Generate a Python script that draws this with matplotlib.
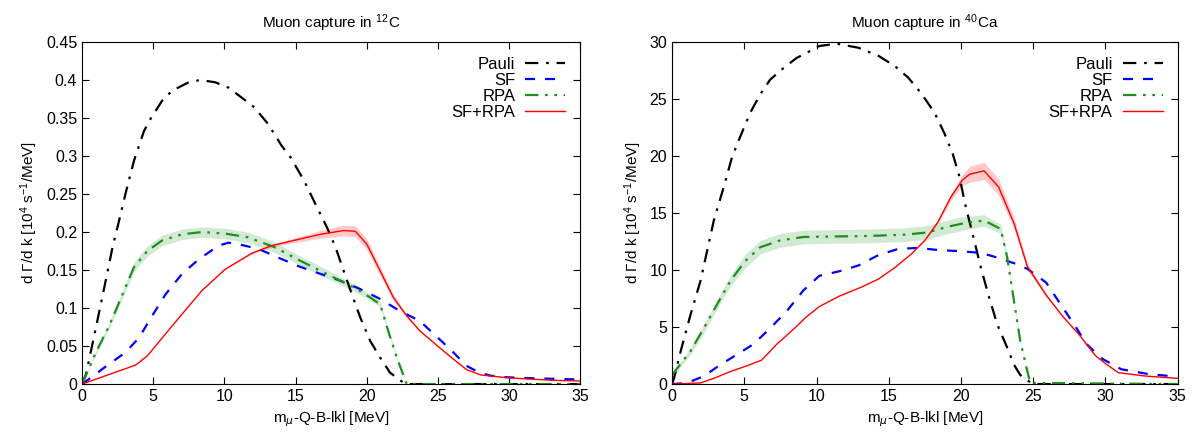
import matplotlib
matplotlib.use("Agg")
import matplotlib.pyplot as plt
import numpy as np

plt.rcParams['font.family'] = ['Liberation Sans', 'DejaVu Sans']
plt.rcParams['mathtext.default'] = 'regular'

# ---- 12C ----
c_pauli_x = [0, 0.28, 0.98, 1.56, 2.14, 2.6, 3.07, 3.65, 4.35, 4.81, 5.63, 6.33, 7.49, 8.3, 9.35, 10.28,
             11.2, 12.1, 13.07, 14.0, 14.65, 15.58, 16.28, 17.2, 17.8, 18.37, 18.95, 19.53, 20.23, 20.93,
             21.63, 22.56, 22.9, 35]
c_pauli_y = [0, 0.013, 0.075, 0.127, 0.18, 0.215, 0.252, 0.294, 0.333, 0.349, 0.373, 0.386, 0.397, 0.4,
             0.397, 0.39, 0.377, 0.364, 0.342, 0.314, 0.298, 0.268, 0.241, 0.206, 0.18, 0.149, 0.118, 0.088,
             0.057, 0.035, 0.015, 0.002, 0, 0]

c_sf_x = [0, 0.16, 1.44, 3.07, 4.0, 4.93, 5.86, 7.02, 8.19, 9.58, 10.28, 11.2, 12.37, 13.95, 15.35, 16.74,
          18.14, 19.53, 20.93, 22.33, 23.72, 25.1, 25.9, 27.0, 27.9, 28.7, 29.8, 31.1, 33.0, 35]
c_sf_y = [0, 0.002, 0.02, 0.042, 0.061, 0.09, 0.118, 0.145, 0.164, 0.182, 0.186, 0.183, 0.178, 0.165, 0.154,
          0.145, 0.136, 0.125, 0.112, 0.096, 0.083, 0.059, 0.045, 0.024, 0.015, 0.011, 0.009, 0.008, 0.007, 0.006]

c_rpa_x = [0, 0.98, 1.91, 2.84, 3.65, 4.58, 5.63, 7.02, 8.42, 10.05, 11.67, 13.53, 15.35, 16.74, 18.14,
           19.3, 20.23, 20.93, 21.5, 22.1, 22.8, 35]
c_rpa_y = [0, 0.042, 0.077, 0.118, 0.154, 0.175, 0.189, 0.197, 0.2, 0.198, 0.193, 0.18, 0.162, 0.149, 0.136,
           0.125, 0.114, 0.105, 0.07, 0.035, 0, 0]
c_rpa_err = [0, 0.003, 0.004, 0.005, 0.006, 0.007, 0.007, 0.007, 0.007, 0.007, 0.007, 0.007, 0.006, 0.006,
             0.005, 0.005, 0.004, 0.004, 0.003, 0.002, 0, 0]

c_tot_x = [0, 3.77, 4.58, 5.86, 7.02, 8.42, 10.05, 11.91, 13.3, 14.88, 16.74, 18.37, 19.19, 20.0, 20.93,
           21.86, 22.79, 23.72, 25.1, 26.0, 27.0, 28.0, 29.5, 31.0, 33.0, 35]
c_tot_y = [0, 0.025, 0.037, 0.066, 0.092, 0.123, 0.151, 0.172, 0.182, 0.189, 0.197, 0.202, 0.201, 0.184,
           0.149, 0.114, 0.09, 0.07, 0.048, 0.034, 0.019, 0.012, 0.009, 0.007, 0.005, 0.004]
c_tot_err = [0, 0, 0, 0, 0, 0, 0, 0.001, 0.002, 0.003, 0.005, 0.007, 0.007, 0.007, 0.006, 0.004, 0.002,
             0.001, 0, 0, 0, 0, 0, 0, 0, 0]

# ---- 40Ca ----
ca_pauli_x = [0, 0.14, 0.6, 1.28, 1.97, 2.89, 3.58, 4.15, 4.72, 5.41, 6.1, 6.79, 7.7, 8.62, 9.54, 10.2,
              11.4, 12.89, 14.27, 15.41, 16.33, 17.25, 18.17, 18.85, 19.43, 19.89, 20.34, 20.8, 21.38,
              21.95, 22.52, 23.2, 23.67, 24.1, 24.7, 25.05, 35]
ca_pauli_y = [0, 0.53, 2.9, 6.1, 9.06, 14.35, 17.3, 19.9, 21.7, 23.8, 25.4, 26.7, 27.7, 28.6, 29.2, 29.65,
              29.85, 29.5, 28.8, 27.9, 26.9, 25.5, 23.8, 22.0, 20.2, 18.2, 15.5, 13.2, 10.2, 7.6, 5.2, 3.2,
              1.7, 0.8, 0.24, 0, 0]

ca_sf_x = [0, 1.05, 2.2, 3.35, 4.5, 5.64, 6.79, 7.94, 9.08, 10.2, 11.6, 12.9, 14.27, 15.64, 17.0, 18.4,
           20.0, 21.4, 22.5, 23.9, 24.6, 25.9, 27.0, 27.9, 28.7, 29.8, 31.1, 33.0, 35]
ca_sf_y = [0, 0.1, 0.7, 1.7, 2.6, 3.5, 4.9, 6.4, 8.2, 9.5, 9.9, 10.4, 11.3, 11.85, 11.94, 11.76, 11.65,
           11.5, 11.1, 10.5, 10.1, 8.9, 6.8, 5.1, 3.5, 2.2, 1.3, 0.87, 0.65]

ca_rpa_x = [0, 1.28, 2.2, 3.12, 4.04, 5.07, 6.1, 7.48, 9.08, 10.9, 12.75, 13.8, 16.1, 17.7, 19.08, 20.2,
            21.6, 22.75, 23.2, 23.67, 24.1, 24.6, 24.8, 35]
ca_rpa_y = [0.8, 2.9, 4.9, 7.0, 9.06, 10.8, 12.0, 12.6, 12.9, 12.94, 12.97, 13.0, 13.1, 13.3, 13.8, 14.1,
            14.35, 13.6, 11.1, 7.3, 3.8, 1.1, 0.1, 0]
ca_rpa_err = [0.2, 0.3, 0.4, 0.4, 0.5, 0.6, 0.6, 0.6, 0.6, 0.6, 0.6, 0.6, 0.6, 0.6, 0.6, 0.6, 0.5, 0.4,
              0.3, 0.2, 0.1, 0.05, 0, 0]

ca_tot_x = [0, 1.97, 2.89, 4.04, 5.18, 6.2, 7.25, 8.4, 9.3, 10.2, 11.56, 13.1, 14.27, 15.41, 16.56, 17.5,
            18.4, 19.3, 20.1, 20.6, 21.6, 22.6, 23.67, 24.6, 25.9, 27.0, 28.2, 29.3, 30.0, 30.9, 32.8, 35]
ca_tot_y = [0, 0.1, 0.5, 1.1, 1.6, 2.1, 3.5, 4.8, 5.9, 6.8, 7.7, 8.5, 9.2, 10.2, 11.4, 12.6, 14.2, 16.4,
            17.9, 18.4, 18.7, 17.3, 14.1, 10.3, 7.8, 6.0, 4.3, 2.5, 1.8, 1.0, 0.7, 0.5]
ca_tot_err = [0, 0, 0, 0, 0, 0, 0, 0, 0, 0, 0, 0, 0, 0, 0, 0.05, 0.15, 0.3, 0.5, 0.7, 0.75, 0.7, 0.5,
              0.3, 0.15, 0.05, 0, 0, 0, 0, 0, 0]

labels = ["Pauli", "SF", "RPA", "SF+RPA"]


def panel(ax, px, py, sx, sy, rx, ry, re, tx, ty, te, ymax, ystep, titulo):
    rx, ry, re = np.array(rx), np.array(ry), np.array(re)
    tx, ty, te = np.array(tx), np.array(ty), np.array(te)
    ax.fill_between(rx, ry - re, ry + re, color="#4caf50", alpha=0.25, lw=0)
    ax.fill_between(tx, ty - te, ty + te, color="#ff4d4d", alpha=0.3, lw=0)
    ax.plot(px, py, color="black", lw=1.6, dashes=(6, 3.5, 1.2, 3.5), label=labels[0])
    ax.plot(sx, sy, color="blue", lw=1.6, dashes=(4.5, 4.5), label=labels[1])
    ax.plot(rx, ry, color="#1f8f1f", lw=1.6, dashes=(6, 3, 1.2, 3, 1.2, 3), label=labels[2])
    ax.plot(tx, ty, color="red", lw=1.0, label=labels[3])
    ax.set_xlim(0, 35)
    ax.set_ylim(0, ymax)
    ax.set_xticks(range(0, 36, 5))
    ax.set_yticks(np.arange(0, ymax + ystep / 2, ystep))
    ax.tick_params(direction="in", top=True, right=True, length=5, labelsize=11.5)
    ax.set_xlabel(r"m$_{\mathit{\mu}}$-Q-B-lkl [MeV]", fontsize=11)
    ax.set_ylabel(r"d $\Gamma$/d k [10$^4$ s$^{-1}$/MeV]", fontsize=11)
    ax.set_title(titulo, fontsize=11, pad=10)
    ax.legend(loc="upper right", frameon=False, markerfirst=False, fontsize=12,
              handlelength=2.4, labelspacing=0.05, borderaxespad=0.5, handletextpad=0.6)


fig = plt.figure(figsize=(11.98, 4.33), dpi=100)
ax1 = fig.add_axes([0.0685, 0.113, 0.416, 0.790])
ax2 = fig.add_axes([0.561, 0.113, 0.422, 0.790])

panel(ax1, c_pauli_x, c_pauli_y, c_sf_x, c_sf_y, c_rpa_x, c_rpa_y, c_rpa_err,
      c_tot_x, c_tot_y, c_tot_err, 0.45, 0.05, r"Muon capture in $^{12}$C")
panel(ax2, ca_pauli_x, ca_pauli_y, ca_sf_x, ca_sf_y, ca_rpa_x, ca_rpa_y, ca_rpa_err,
      ca_tot_x, ca_tot_y, ca_tot_err, 30, 5, r"Muon capture in $^{40}$Ca")
ax1.set_yticklabels(["0", "0.05", "0.1", "0.15", "0.2", "0.25", "0.3", "0.35", "0.4", "0.45"])

fig.savefig("out.png", dpi=100)
